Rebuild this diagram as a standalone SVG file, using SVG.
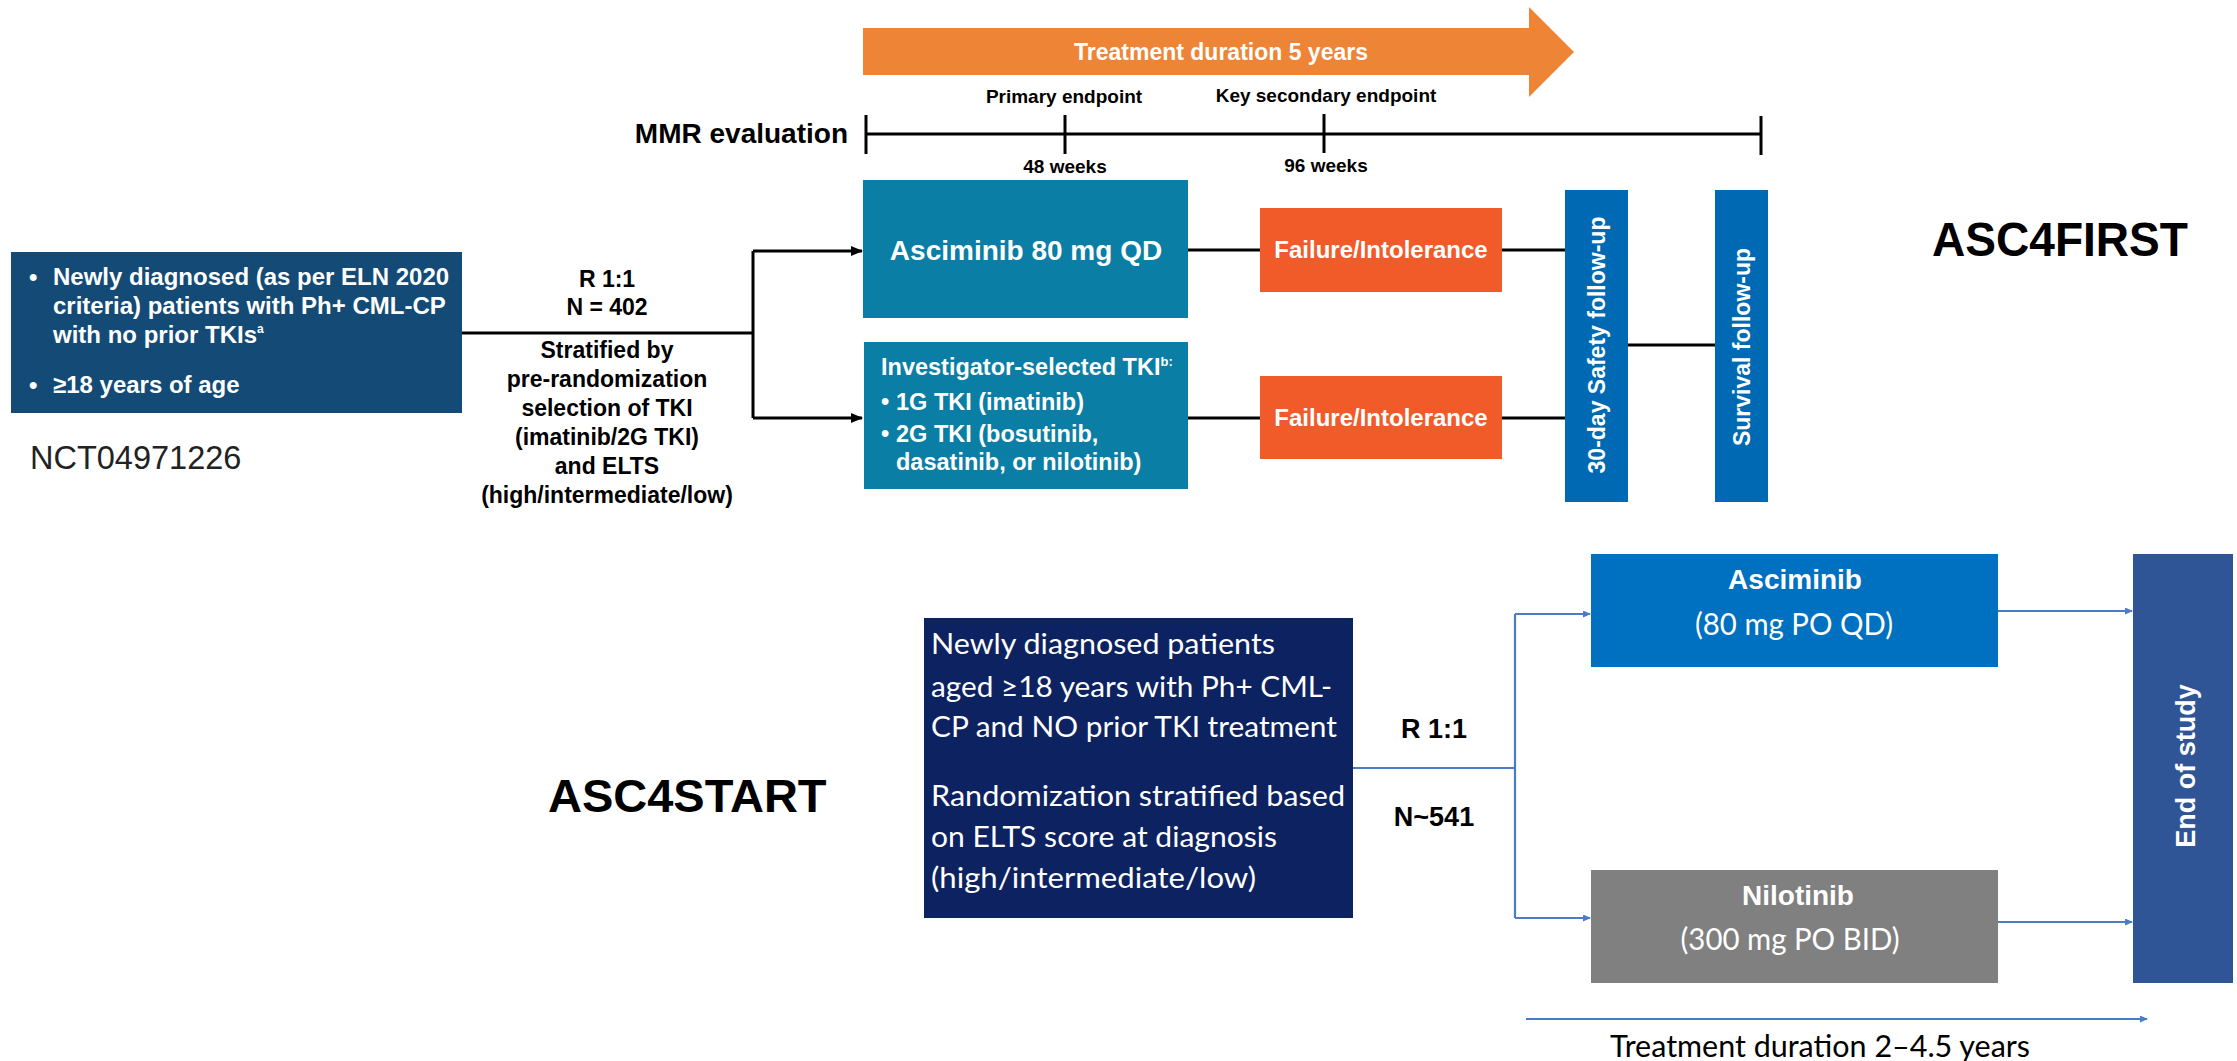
<svg xmlns="http://www.w3.org/2000/svg" width="2237" height="1061" viewBox="0 0 2237 1061">
<defs>
<style>
.b{font-family:"Liberation Sans",Arial,sans-serif;font-weight:bold}
.r{font-family:"Liberation Sans",Arial,sans-serif}
.c{font-family:Lato,"Open Sans",sans-serif}
.w{fill:#fff}
.k{fill:#000}
.ln{stroke:#000;stroke-width:3;fill:none}
.bl{stroke:#4A7DC6;stroke-width:2.2;fill:none}
</style>
<marker id="ah" markerWidth="12" markerHeight="10" refX="11" refY="5" orient="auto" markerUnits="userSpaceOnUse">
<path d="M0,0 L12,5 L0,10 Z" fill="#000"/>
</marker>
<marker id="bh" markerWidth="8" markerHeight="7" refX="7" refY="3.5" orient="auto" markerUnits="userSpaceOnUse">
<path d="M0,0 L8,3.5 L0,7 Z" fill="#4A7DC6"/>
</marker>
</defs>
<rect width="2237" height="1061" fill="#fff"/>

<!-- ASC4FIRST -->
<g id="treatment-arrow">
<path d="M863,28 H1529 V7 L1574,52 L1529,97 V75 H863 Z" fill="#EE8536"/>
<text class="b w" x="1221" y="60" font-size="23" text-anchor="middle">Treatment duration 5 years</text>
</g>

<g id="timeline">
<text class="b k" x="848" y="143" font-size="28" text-anchor="end">MMR evaluation</text>
<line class="ln" x1="866" y1="134" x2="1761" y2="134"/>
<line class="ln" x1="866" y1="115" x2="866" y2="154"/>
<line class="ln" x1="1065" y1="115" x2="1065" y2="154"/>
<line class="ln" x1="1324" y1="114" x2="1324" y2="153"/>
<line class="ln" x1="1761" y1="116" x2="1761" y2="155"/>
<text class="b k" x="1064" y="103" font-size="19" text-anchor="middle">Primary endpoint</text>
<text class="b k" x="1326" y="102" font-size="19" text-anchor="middle">Key secondary endpoint</text>
<text class="b k" x="1065" y="173" font-size="19" text-anchor="middle">48 weeks</text>
<text class="b k" x="1326" y="172" font-size="19" text-anchor="middle">96 weeks</text>
</g>

<g id="eligibility-first">
<rect x="11" y="252" width="451" height="161" fill="#134A76"/>
<text class="b w" x="29" y="285" font-size="24">•</text>
<text class="b w" x="53" y="285" font-size="24">Newly diagnosed (as per ELN 2020</text>
<text class="b w" x="53" y="314" font-size="24">criteria) patients with Ph+ CML-CP</text>
<text class="b w" x="53" y="343" font-size="24">with no prior TKIs<tspan font-size="12" dy="-10">a</tspan></text>
<text class="b w" x="29" y="393" font-size="24">•</text>
<text class="b w" x="53" y="393" font-size="24">≥18 years of age</text>
</g>
<text id="nct" class="r" x="30" y="469" font-size="32.5" fill="#222">NCT04971226</text>

<g id="randomization-first">
<text class="b k" x="607" y="287" font-size="23" text-anchor="middle">R 1:1</text>
<text class="b k" x="607" y="315" font-size="23" text-anchor="middle">N = 402</text>
<text class="b k" x="607" y="358" font-size="23" text-anchor="middle">Stratified by</text>
<text class="b k" x="607" y="387" font-size="23" text-anchor="middle">pre-randomization</text>
<text class="b k" x="607" y="416" font-size="23" text-anchor="middle">selection of TKI</text>
<text class="b k" x="607" y="445" font-size="23" text-anchor="middle">(imatinib/2G TKI)</text>
<text class="b k" x="607" y="474" font-size="23" text-anchor="middle">and ELTS</text>
<text class="b k" x="607" y="503" font-size="23" text-anchor="middle">(high/intermediate/low)</text>
</g>

<g id="asciminib-first">
<rect x="863" y="180" width="325" height="138" fill="#0A7EA4"/>
<text class="b w" x="1026" y="260" font-size="28" text-anchor="middle">Asciminib 80 mg QD</text>
</g>

<g id="investigator-tki">
<rect x="864" y="342" width="324" height="147" fill="#0A7EA4"/>
<text class="b w" x="881" y="375" font-size="23.5">Investigator-selected TKI<tspan font-size="13" dy="-9">b:</tspan></text>
<text class="b w" x="881" y="410" font-size="23.5">•</text>
<text class="b w" x="896" y="410" font-size="23.5">1G TKI (imatinib)</text>
<text class="b w" x="881" y="442" font-size="23.5">•</text>
<text class="b w" x="896" y="442" font-size="23.5">2G TKI (bosutinib,</text>
<text class="b w" x="896" y="470" font-size="23.5">dasatinib, or nilotinib)</text>
</g>

<g id="failure-1">
<rect x="1260" y="208" width="242" height="84" fill="#F15A29"/>
<text class="b w" x="1381" y="258" font-size="24" text-anchor="middle">Failure/Intolerance</text>
</g>
<g id="failure-2">
<rect x="1260" y="376" width="242" height="83" fill="#F15A29"/>
<text class="b w" x="1381" y="426" font-size="24" text-anchor="middle">Failure/Intolerance</text>
</g>

<g id="safety-followup">
<rect x="1565" y="190" width="63" height="312" fill="#0069B4"/>
<text class="b w" transform="translate(1605,345) rotate(-90)" font-size="23" text-anchor="middle">30-day Safety follow-up</text>
</g>
<g id="survival-followup">
<rect x="1715" y="190" width="53" height="312" fill="#0069B4"/>
<text class="b w" transform="translate(1750,347) rotate(-90)" font-size="23" text-anchor="middle">Survival follow-up</text>
</g>

<text id="title-first" class="b k" x="1932" y="256" font-size="49" textLength="256" lengthAdjust="spacingAndGlyphs">ASC4FIRST</text>

<!-- ASC4START -->
<text id="title-start" class="b k" x="548" y="812" font-size="47">ASC4START</text>

<g id="eligibility-start">
<rect x="924" y="618" width="429" height="300" fill="#0D2260"/>
<text class="c w" x="931" y="654" font-size="29" textLength="344" lengthAdjust="spacingAndGlyphs">Newly diagnosed patients</text>
<text class="c w" x="931" y="697" font-size="29" textLength="401" lengthAdjust="spacingAndGlyphs">aged ≥18 years with Ph+ CML-</text>
<text class="c w" x="931" y="737" font-size="29" textLength="406" lengthAdjust="spacingAndGlyphs">CP and NO prior TKI treatment</text>
<text class="c w" x="931" y="806" font-size="29" textLength="414" lengthAdjust="spacingAndGlyphs">Randomization stratified based</text>
<text class="c w" x="931" y="847" font-size="29" textLength="346" lengthAdjust="spacingAndGlyphs">on ELTS score at diagnosis</text>
<text class="c w" x="931" y="888" font-size="29" textLength="325" lengthAdjust="spacingAndGlyphs">(high/intermediate/low)</text>
</g>

<g id="randomization-start">
<text class="b k" x="1434" y="738" font-size="27" text-anchor="middle">R 1:1</text>
<text class="b k" x="1434" y="826" font-size="27" text-anchor="middle">N~541</text>
</g>

<g id="asciminib-start">
<rect x="1591" y="554" width="407" height="113" fill="#0070C0"/>
<text class="b w" x="1795" y="589" font-size="28" text-anchor="middle">Asciminib</text>
<text class="c w" x="1794" y="635" font-size="31" text-anchor="middle" textLength="198" lengthAdjust="spacingAndGlyphs">(80 mg PO QD)</text>
</g>

<g id="nilotinib-start">
<rect x="1591" y="870" width="407" height="113" fill="#808080"/>
<text class="b w" x="1798" y="905" font-size="28" text-anchor="middle">Nilotinib</text>
<text class="c w" x="1790" y="950" font-size="31" text-anchor="middle" textLength="219" lengthAdjust="spacingAndGlyphs">(300 mg PO BID)</text>
</g>

<g id="end-of-study">
<rect x="2133" y="554" width="100" height="429" fill="#2F5597"/>
<text class="b w" transform="translate(2195,766) rotate(-90)" font-size="27" text-anchor="middle">End of study</text>
</g>

<g id="duration-start">
<line class="bl" x1="1526" y1="1019" x2="2147" y2="1019" marker-end="url(#bh)"/>
<text class="c k" x="1820" y="1057" font-size="30" text-anchor="middle" textLength="420" lengthAdjust="spacingAndGlyphs">Treatment duration 2–4.5 years</text>
</g>

<g id="connectors">
<polyline class="ln" points="462,333 753,333"/>
<polyline class="ln" points="753,251 753,418"/>
<line class="ln" x1="753" y1="251" x2="862" y2="251" marker-end="url(#ah)"/>
<line class="ln" x1="753" y1="418" x2="862" y2="418" marker-end="url(#ah)"/>
<line class="ln" x1="1188" y1="250" x2="1260" y2="250"/>
<line class="ln" x1="1502" y1="250" x2="1565" y2="250"/>
<line class="ln" x1="1188" y1="418" x2="1260" y2="418"/>
<line class="ln" x1="1502" y1="418" x2="1565" y2="418"/>
<line class="ln" x1="1628" y1="345" x2="1715" y2="345"/>
<line class="bl" x1="1353" y1="768" x2="1515" y2="768"/>
<line class="bl" x1="1515" y1="614" x2="1515" y2="918"/>
<line class="bl" x1="1515" y1="614" x2="1590" y2="614" marker-end="url(#bh)"/>
<line class="bl" x1="1515" y1="918" x2="1590" y2="918" marker-end="url(#bh)"/>
<line class="bl" x1="1998" y1="611" x2="2132" y2="611" marker-end="url(#bh)"/>
<line class="bl" x1="1998" y1="922" x2="2132" y2="922" marker-end="url(#bh)"/>
</g>
</svg>
